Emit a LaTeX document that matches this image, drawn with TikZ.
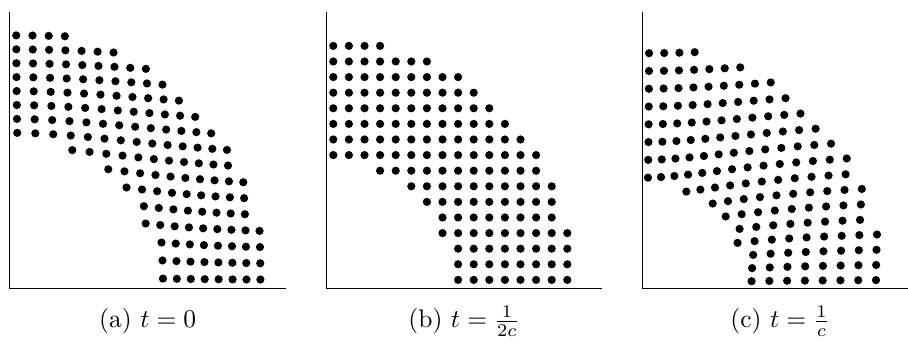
\documentclass[tikz,border=0pt]{standalone}
\begin{document}
\tikzset{
  dotmark/.style={fill=black, draw=none},
  axisline/.style={line width=0.55pt},
  caption/.style={anchor=base, inner sep=0pt}
}
% #1 = x of panel corner, #2,#3: radial displacement D(r) = #2 - #3*(r-8.5)
\newcommand\drawdotpanel[3]{%
  \foreach \k in {0,...,15}{%
    \foreach \j in {0,...,15}{%
      \pgfmathtruncatemacro\rsq{(2*\k+1)^2+(2*\j+1)^2}%
      \ifnum\rsq>256 \ifnum\rsq<1024
        \pgfmathsetmacro\ux{\k+0.5}%
        \pgfmathsetmacro\uy{\j+0.5}%
        \pgfmathsetmacro\rr{sqrt(\ux*\ux+\uy*\uy)}%
        \pgfmathsetmacro\fac{1+((#2)-(#3)*(\rr-8.5))/\rr}%
        \fill[dotmark] ({#1-1.2+\fac*\ux*15.6},{56.7+0.6+\fac*\uy*15.6}) circle[radius=4.1];
      \fi\fi
    }%
  }%
}
\begin{tikzpicture}[x=0.392pt,y=0.392pt]
\useasboundingbox (0,0) rectangle (908,345);
% panel (a)
\coordinate (a0) at (9.3,56.7);
\coordinate (atop) at (9.3,333);
\coordinate (aend) at (286,56.7);
\draw[axisline] (atop) -- (a0) -- (aend);
\drawdotpanel{9.3}{1.43}{0.108}
\node[caption] (capa) at (147.7,17.5) {(a) $t = 0$};
% panel (b)
\coordinate (b0) at (326.7,56.7);
\coordinate (btop) at (326.7,333);
\coordinate (bend) at (601.7,56.7);
\draw[axisline] (btop) -- (b0) -- (bend);
\drawdotpanel{326.7}{0}{0}
\node[caption] (capb) at (464,17.5) {(b) $t = \frac{1}{2c}$};
% panel (c)
\coordinate (c0) at (642.7,56.7);
\coordinate (ctop) at (642.7,333);
\coordinate (cend) at (908,56.7);
\draw[axisline] (ctop) -- (c0) -- (cend);
\drawdotpanel{642.7}{-1.45}{-0.14}
\node[caption] (capc) at (780,17.5) {(c) $t = \frac{1}{c}$};
\end{tikzpicture}
\end{document}
